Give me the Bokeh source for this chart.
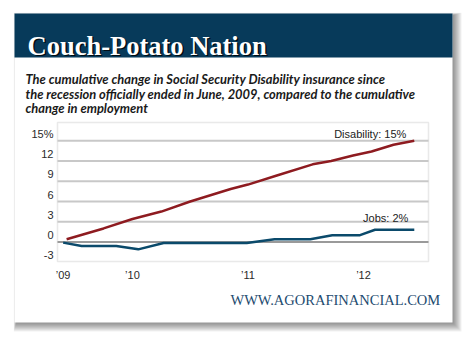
from bokeh.plotting import figure
from bokeh.models import BoxAnnotation, Label, FixedTicker, Range1d, LinearAxis
from bokeh.embed import file_html
from bokeh.resources import INLINE

# ---- data (decimal years, cumulative % change) ----
dis_x = [2009.43, 2009.75, 2010.0, 2010.25, 2010.5, 2010.85, 2011.0, 2011.25,
         2011.56, 2011.72, 2011.91, 2012.07, 2012.26, 2012.44]
dis_y = [0.4, 2.0, 3.4, 4.5, 6.0, 7.85, 8.5, 9.85, 11.5, 12.0, 12.8, 13.4, 14.4, 15.0]
jobs_x = [2009.40, 2009.56, 2009.86, 2010.05, 2010.27, 2010.99, 2011.23, 2011.54,
          2011.73, 2011.97, 2012.10, 2012.44]
jobs_y = [-0.1, -0.6, -0.6, -1.1, -0.15, -0.15, 0.4, 0.4, 1.0, 1.0, 1.8, 1.8]

y_ticks = [-3, 0, 3, 6, 9, 12, 15]
y_tick_labels = ["-3", "0", "3", "6", "9", "12", "15%"]
x_ticks = [2009.4, 2010, 2011, 2012]
x_tick_labels = ["\u201909", "\u201910", "\u201911", "\u201912"]

title = "Couch-Potato Nation"
subtitle = ["The cumulative change in Social Security Disability insurance since",
            "the recession officially ended in June, 2009, compared to the cumulative",
            "change in employment"]
dis_label = "Disability: 15%"
jobs_label = "Jobs: 2%"
site = "WWW.AGORAFINANCIAL.COM"

# ---- layout: pixel box of the chart area inside the 471x343 canvas ----
W, H = 471, 343
FL, FR, FT, FB = 57, 428, 122, 261
X0, X1 = 2009.351, 2012.563   # data x at FL, FR
Y0, Y1 = -2.9, 17.7           # data y at FB, FT


def px2x(px):
    return X0 + (px - FL) / (FR - FL) * (X1 - X0)


def py2y(py):
    return Y0 + (FB - py) / (FB - FT) * (Y1 - Y0)


p = figure(width=W, height=H, output_backend="svg", toolbar_location=None,
           x_range=Range1d(px2x(0), px2x(W)), y_range=Range1d(py2y(H), py2y(0)),
           x_axis_location=None, y_axis_location=None,
           min_border=0, min_border_left=0, min_border_right=0,
           min_border_top=0, min_border_bottom=0)
p.background_fill_color = "white"
p.border_fill_color = "white"
p.outline_line_color = None
p.grid.visible = False

# card shadow, card, header
for d in range(1, 10):
    p.add_layout(BoxAnnotation(left=px2x(14 + 2 - 0.3 * d), right=px2x(452 + d),
                               top=py2y(13 + 2 - 0.3 * d), bottom=py2y(322 + d),
                               fill_color="black", fill_alpha=0.055, line_color=None,
                               level="image"))
p.add_layout(BoxAnnotation(left=px2x(14), right=px2x(452), top=py2y(13), bottom=py2y(322),
                           fill_color="white", fill_alpha=1, line_color=None, level="image"))
p.add_layout(BoxAnnotation(left=px2x(14), right=px2x(452), top=py2y(13), bottom=py2y(57),
                           fill_color="#073a5a", fill_alpha=1, line_color=None, level="image"))

# grid lines of the chart area
grid_vals = [t for t in y_ticks if t > 0]
p.segment(x0=X0, x1=X1, y0=grid_vals, y1=grid_vals, line_color="#c8c8c8", line_width=2)
p.segment(x0=X0, x1=X1, y0=[0], y1=[0], line_color="#9a9a9a", line_width=2)
# chart frame
p.add_layout(BoxAnnotation(left=X0, right=X1, bottom=Y0, top=Y1, fill_color=None,
                           line_color="#b5b5b5", line_width=1.5, level="underlay"))

# axes placed at the chart edges
yax = LinearAxis(fixed_location=X0)
xax = LinearAxis(fixed_location=Y0)
p.add_layout(yax, "left")
p.add_layout(xax, "below")
yax.ticker = FixedTicker(ticks=[t + 1 for t in y_ticks])
yax.major_label_overrides = {t + 1: s for t, s in zip(y_ticks, y_tick_labels)}
xax.ticker = FixedTicker(ticks=x_ticks)
xax.major_label_overrides = {t: s for t, s in zip(x_ticks, x_tick_labels)}
for ax in (xax, yax):
    ax.axis_line_color = None
    ax.major_tick_line_color = None
    ax.minor_tick_line_color = None
    ax.major_tick_out = 0
    ax.major_tick_in = 0
    ax.minor_tick_out = 0
    ax.major_label_text_font = "Liberation Sans"
    ax.major_label_text_font_size = "11px"
    ax.major_label_text_color = "#2a2a2a"
yax.major_label_standoff = 4
xax.major_label_standoff = 7

# lines
p.line(dis_x, dis_y, line_color="#8e1b20", line_width=2.5)
p.line(jobs_x, jobs_y, line_color="#0b4a6b", line_width=2.5)

# series labels
p.add_layout(Label(x=dis_x[-1], y=dis_y[-1] + 1.0, x_offset=-8, text=dis_label,
                   text_align="right", text_baseline="middle",
                   text_font="Liberation Sans", text_font_size="11px", text_color="#222222"))
p.add_layout(Label(x=jobs_x[-1], y=jobs_y[-1] + 1.7, x_offset=-6, text=jobs_label,
                   text_align="right", text_baseline="middle",
                   text_font="Liberation Sans", text_font_size="11px", text_color="#222222"))

# title with shadow
p.add_layout(Label(x=px2x(28.5), y=py2y(46.5), text=title, text_font="Liberation Serif",
                   text_font_style="bold", text_font_size="26.5px", text_color="black",
                   text_alpha=0.8, text_baseline="alphabetic"))
p.add_layout(Label(x=px2x(27), y=py2y(45), text=title, text_font="Liberation Serif",
                   text_font_style="bold", text_font_size="26.5px", text_color="white",
                   text_baseline="alphabetic"))

# subtitle
for i, line in enumerate(subtitle):
    p.add_layout(Label(x=px2x(25), y=py2y(78.5 + 14.5 * i), text=line, text_font="Lato",
                       text_font_style="bold italic", text_font_size="12.9px",
                       text_color="#1a1a1a", text_baseline="alphabetic"))

# website
p.add_layout(Label(x=px2x(230), y=py2y(299), text=site, text_font="Liberation Serif",
                   text_font_size="14.5px", text_color="#1d4b6f", text_baseline="alphabetic"))

open("out.html", "w").write(file_html(p, INLINE))
